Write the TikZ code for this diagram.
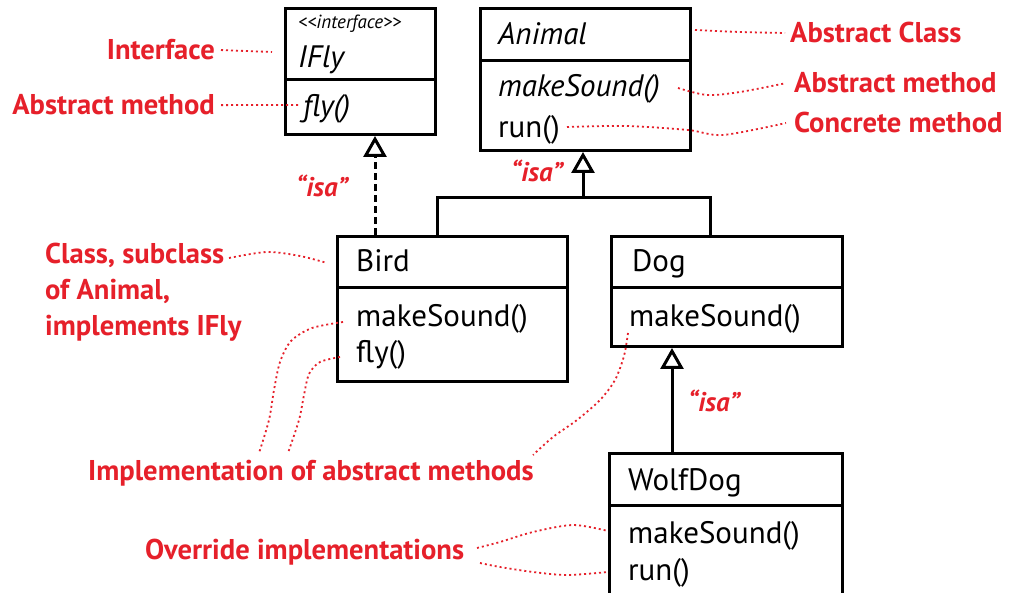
\documentclass[tikz,border=0pt]{standalone}
\usepackage{fontspec}
\setmainfont{PT Sans}
\usetikzlibrary{arrows.meta}
\definecolor{lblred}{RGB}{230,32,42}
\begin{document}
\begin{tikzpicture}[x=1pt,y=-1pt,
  classbox/.style={draw=black, line width=3pt, anchor=north west, inner sep=0pt},
  rule/.style={draw=black, line width=3pt},
  txt/.style={anchor=base west, inner sep=0pt, font=\fontsize{31}{33}\selectfont},
  itxt/.style={anchor=base west, inner sep=0pt, font=\itshape\fontsize{31}{33}\selectfont},
  stereo/.style={anchor=base west, inner sep=0pt, font=\itshape\fontsize{19}{20}\selectfont},
  lbl/.style={inner sep=0pt, text=lblred, font=\bfseries\fontsize{28.6}{36}\selectfont},
  isa/.style={anchor=base west, inner sep=0pt, text=lblred, font=\bfseries\itshape\fontsize{27}{30}\selectfont},
  leader/.style={draw=lblred, line width=1.8pt, dash pattern=on 2pt off 3pt},
  conn/.style={draw=black, line width=3pt},
  gen/.style={conn, -{Triangle[length=21pt, width=23pt, fill=white]}},
  realize/.style={gen, dash pattern=on 7pt off 4pt}
]
\useasboundingbox (0,0) rectangle (1015,593);
\clip (0,0) rectangle (1015,593);
\fill[white] (0,0) rectangle (1015,593);

% class boxes
\node[classbox, minimum width=150pt, minimum height=126pt] (ifly) at (284,7) {};
\node[classbox, minimum width=210pt, minimum height=142pt] (animal) at (479,7) {};
\node[classbox, minimum width=230pt, minimum height=145pt] (bird) at (336,235) {};
\node[classbox, minimum width=231pt, minimum height=110pt] (dog) at (610,235) {};
\node[classbox, minimum width=233pt, minimum height=170pt] (wolf) at (608,452) {};

% compartment rules
\draw[rule] (ifly.west |- 0,80) -- (ifly.east |- 0,80);
\draw[rule] (animal.west |- 0,61) -- (animal.east |- 0,61);
\draw[rule] (bird.west |- 0,288) -- (bird.east |- 0,288);
\draw[rule] (dog.west |- 0,288) -- (dog.east |- 0,288);
\draw[rule] (wolf.west |- 0,505) -- (wolf.east |- 0,505);

% class contents
\node[stereo] (iflyStereo) at (298,29) {\textless\kern0pt\textless interface\textgreater\kern0pt\textgreater};
\node[itxt] (iflyName) at (298,68) {IFly};
\node[itxt] (iflyFly) at (303,117) {fly()};
\node[itxt] (animalName) at (498,45) {Animal};
\node[itxt] (animalMS) at (498,97) {makeSound()};
\node[txt] (animalRun) at (498,138) {run()};
\node[txt] (birdName) at (356,272) {Bird};
\node[txt] (birdMS) at (356,327) {makeSound()};
\node[txt] (birdFly) at (356,363) {fly()};
\node[txt] (dogName) at (632,272) {Dog};
\node[txt] (dogMS) at (629,327) {makeSound()};
\node[txt] (wolfName) at (628,490) {WolfDog};
\node[txt] (wolfMS) at (628,543) {makeSound()};
\node[txt] (wolfRun) at (628,580) {run()};

% relations
\draw[realize] (375,0 |- bird.north) -- (375,0 |- ifly.south);
\draw[conn] (437,0 |- bird.north) -- (437,198) -| (710,0 |- dog.north);
\draw[gen] (583,198) -- (583,0 |- animal.south);
\draw[gen] (672,0 |- wolf.north) -- (672,0 |- dog.south);

\node[isa] (isaIfly) at (296,197) {“isa”};
\node[isa] (isaAnimal) at (511,182) {“isa”};
\node[isa] (isaDog) at (688,412) {“isa”};

% annotations
\node[lbl, anchor=base east] (lIface) at (215,60) {Interface};
\node[lbl, anchor=base east] (lAbsM1) at (215,115) {Abstract method};
\node[lbl, anchor=base west] (lAbsC) at (790,43) {Abstract Class};
\node[lbl, anchor=base west] (lAbsM2) at (794,93) {Abstract method};
\node[lbl, anchor=base west] (lConc) at (794,133) {Concrete method};
\node[lbl, anchor=north west, align=left] (lClass) at (45,243) {Class, subclass\\of Animal,\\implements IFly};
\node[lbl, anchor=base west] (lImpl) at (88,480) {Implementation of abstract methods};
\node[lbl, anchor=base west] (lOver) at (145,559) {Override implementations};

% leader anchor points
\coordinate (pIface) at (272,52);
\coordinate (pIflyFly) at (298,105);
\coordinate (pAnimalTop) at (695,30);
\coordinate (pAnimalMS) at (678,88);
\coordinate (pAnimalRun) at (567,127);
\coordinate (pClassEnd) at (229,258);
\coordinate (pBird) at (327,263);
\coordinate (pBirdMS) at (343,322);
\coordinate (pBirdFly) at (340,357);
\coordinate (pDogMS) at (628,333);
\coordinate (pImplA) at (259,453);
\coordinate (pImplB) at (288,453);
\coordinate (pImplC) at (533,455);
\coordinate (pOverA) at (477,548);
\coordinate (pOverB) at (480,563);
\coordinate (pWolfMS) at (608,531);
\coordinate (pWolfRun) at (608,572);

% leaders
\draw[leader] ([xshift=6pt]lIface.east) -- (pIface);
\draw[leader] ([xshift=6pt]lAbsM1.east) -- (pIflyFly);
\draw[leader] plot[smooth] coordinates {(pAnimalTop) (740,32) ([xshift=-5pt]lAbsC.west)};
\draw[leader] plot[smooth] coordinates {(pAnimalMS) (707,95) (740,92) ([xshift=-8pt]lAbsM2.west)};
\draw[leader] plot[smooth] coordinates {(pAnimalRun) (627,126) (688,130) (723,135) ([xshift=-8pt]lConc.west)};
\draw[leader] plot[smooth] coordinates {(pClassEnd) (267,252) (300,256) (pBird)};
\draw[leader] plot[smooth] coordinates {(pBirdMS) (312,328) (291,341) (280,362) (274,390) (269,420) (pImplA)};
\draw[leader] plot[smooth] coordinates {(pBirdFly) (320,362) (309,374) (304,395) (299,420) (pImplB)};
\draw[leader] plot[smooth] coordinates {(pDogMS) (624,356) (615,380) (600,400) (577,420) (553,437) (pImplC)};
\draw[leader] plot[smooth] coordinates {(pOverA) (500,542) (533,532) (573,525) (pWolfMS)};
\draw[leader] plot[smooth] coordinates {(pOverB) (500,567) (533,572) (567,575) (pWolfRun)};
\end{tikzpicture}
\end{document}
